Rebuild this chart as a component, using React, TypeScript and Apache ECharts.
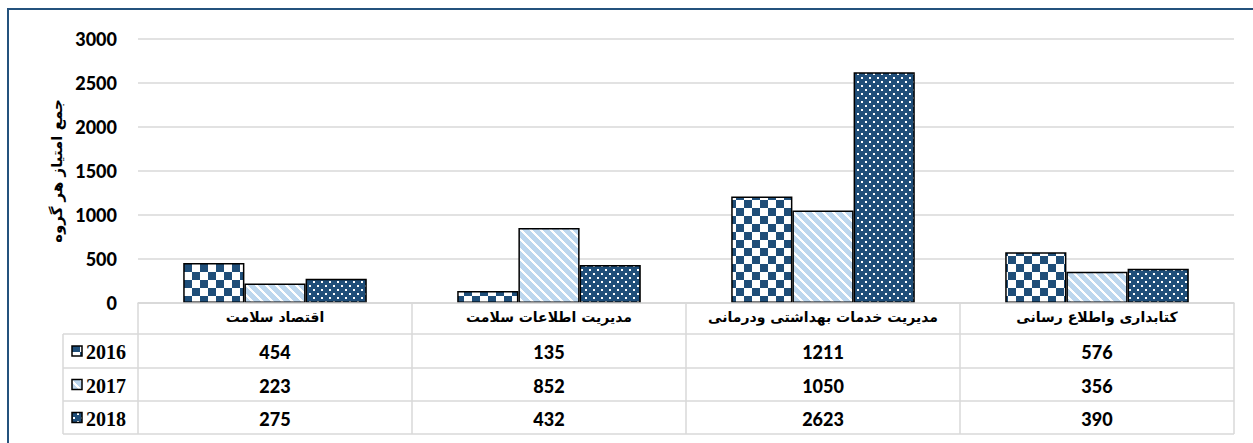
import React, { useEffect, useRef } from "react";
import * as echarts from "echarts";

// ---- data ----
const categories = [
  "اقتصاد سلامت",
  "مدیریت اطلاعات سلامت",
  "مدیریت خدمات بهداشتی ودرمانی",
  "کتابداری واطلاع رسانی",
];
const years = ["2016", "2017", "2018"];
const values2016 = [454, 135, 1211, 576];
const values2017 = [223, 852, 1050, 356];
const values2018 = [275, 432, 2623, 390];
const yMin = 0;
const yMax = 3000;
const yInterval = 500;
const yAxisTitle = "جمع امتیاز هر گروه";

const seriesValues = [values2016, values2017, values2018];

// ---- layout ----
const W = 1253;
const H = 443;
const GRID_LEFT = 138;
const GRID_RIGHT = 19;
const GRID_TOP = 39;
const AXIS_Y = 303;
const ROWS = [303, 334, 368, 401, 434];
const LEGEND_LEFT = 63;
const DARK = "#1F4E79";
const LINE = "#d9d9d9";
const NUM_FONT = "Lato, 'Open Sans', sans-serif";
const AR_FONT = "'DejaVu Sans', sans-serif";

function makeTile(kind: string): { image: string; w: number; h: number } {
  const c = document.createElement("canvas");
  let w = 16, h = 16;
  if (kind === "checker") {
    w = 16; h = 16;
    c.width = w; c.height = h;
    const ctx = c.getContext("2d")!;
    ctx.fillStyle = "#ffffff";
    ctx.fillRect(0, 0, w, h);
    ctx.fillStyle = DARK;
    ctx.fillRect(0, 0, 8, 8);
    ctx.fillRect(8, 8, 8, 8);
  } else if (kind === "stripe") {
    w = 10; h = 10;
    c.width = w; c.height = h;
    const ctx = c.getContext("2d")!;
    const img = ctx.createImageData(w, h);
    for (let y = 0; y < h; y++) {
      for (let x = 0; x < w; x++) {
        const d = (((x - y) % w) + w) % w;
        const white = d < 3;
        const i = (y * w + x) * 4;
        if (white) {
          img.data[i] = 255; img.data[i + 1] = 255; img.data[i + 2] = 255;
        } else {
          img.data[i] = 0xbd; img.data[i + 1] = 0xd7; img.data[i + 2] = 0xee;
        }
        img.data[i + 3] = 255;
      }
    }
    ctx.putImageData(img, 0, 0);
  } else {
    w = 8; h = 8;
    c.width = w; c.height = h;
    const ctx = c.getContext("2d")!;
    ctx.fillStyle = DARK;
    ctx.fillRect(0, 0, w, h);
    ctx.fillStyle = "#ffffff";
    ctx.fillRect(1, 1, 2, 2);
    ctx.fillRect(5, 5, 2, 2);
  }
  return { image: c.toDataURL(), w, h };
}

function pattern(kind: string) {
  const t = makeTile(kind);
  return {
    image: t.image,
    repeat: "repeat",
    imageWidth: t.w,
    imageHeight: t.h,
  } as any;
}

export default function App() {
  const ref = useRef<HTMLDivElement>(null);

  useEffect(() => {
    if (!ref.current) return;
    const chart = echarts.init(ref.current, undefined, { renderer: "svg" });
    const fills = [pattern("checker"), pattern("stripe"), pattern("dots")];

    const plotW = W - GRID_LEFT - GRID_RIGHT;
    const catW = plotW / categories.length;
    const tableRight = GRID_LEFT + plotW;

    const graphics: any[] = [];
    graphics.push({
      type: "rect",
      shape: { x: 8, y: 9, width: 1400, height: 600 },
      style: { fill: "none", stroke: "#24527D", lineWidth: 2 },
      silent: true,
    });
    ROWS.forEach((y, i) => {
      graphics.push({
        type: "line",
        shape: { x1: i === 0 ? GRID_LEFT : LEGEND_LEFT, y1: y, x2: tableRight, y2: y },
        style: { stroke: LINE, lineWidth: 1.5 },
        z: 10,
      });
    });
    graphics.push({
      type: "line",
      shape: { x1: LEGEND_LEFT, y1: ROWS[1], x2: LEGEND_LEFT, y2: ROWS[4] },
      style: { stroke: LINE, lineWidth: 1.5 },
      z: 10,
    });
    for (let i = 0; i <= categories.length; i++) {
      const x = GRID_LEFT + catW * i;
      graphics.push({
        type: "line",
        shape: { x1: x, y1: ROWS[0], x2: x, y2: ROWS[4] },
        style: { stroke: LINE, lineWidth: 1.5 },
        z: 10,
      });
    }
    years.forEach((yr, r) => {
      const cy = (ROWS[r + 1] + ROWS[r + 2]) / 2;
      graphics.push({
        type: "rect",
        shape: { x: 72, y: cy - 5, width: 10, height: 10 },
        style: { fill: fills[r], stroke: "#000", lineWidth: 1.5 },
        z: 10,
      });
      graphics.push({
        type: "text",
        x: 86,
        y: cy + 1,
        style: {
          text: yr,
          fill: "#000",
          font: "bold 20px 'Liberation Serif', 'Times New Roman', serif",
          textAlign: "left",
          textVerticalAlign: "middle",
        },
        z: 10,
      });
      seriesValues[r].forEach((v, c) => {
        graphics.push({
          type: "text",
          x: GRID_LEFT + catW * (c + 0.5),
          y: cy + 1,
          style: {
            text: String(v),
            fill: "#000",
            font: "900 18px " + NUM_FONT,
            textAlign: "center",
            textVerticalAlign: "middle",
          },
          z: 10,
        });
      });
    });

    chart.setOption({
      animation: false,
      backgroundColor: "#ffffff",
      grid: {
        left: GRID_LEFT,
        right: GRID_RIGHT,
        top: GRID_TOP,
        bottom: H - AXIS_Y,
        containLabel: false,
      },
      xAxis: {
        type: "category",
        data: categories,
        axisLine: { show: true, lineStyle: { color: LINE, width: 1.5 } },
        axisTick: { show: false },
        axisLabel: {
          interval: 0,
          color: "#000",
          fontSize: 14,
          fontWeight: "bold",
          fontFamily: AR_FONT,
          margin: 14,
          verticalAlign: "middle",
        },
      },
      yAxis: {
        type: "value",
        min: yMin,
        max: yMax,
        interval: yInterval,
        name: yAxisTitle,
        nameLocation: "middle",
        nameRotate: 90,
        nameGap: 73,
        nameTextStyle: {
          color: "#000",
          fontSize: 15,
          fontWeight: "bold",
          fontFamily: AR_FONT,
        },
        axisLine: { show: false },
        axisTick: { show: false },
        axisLabel: {
          color: "#000",
          fontSize: 18,
          fontWeight: 900,
          fontFamily: NUM_FONT,
          margin: 21,
          formatter: (v: number) => String(v),
        },
        splitLine: { lineStyle: { color: LINE, width: 1.5 } },
      },
      series: years.map((yr, i) => ({
        name: yr,
        type: "bar",
        data: seriesValues[i],
        barGap: "0%",
        barCategoryGap: "33%",
        itemStyle: { color: fills[i], borderColor: "#000", borderWidth: 1.5 },
      })),
      graphic: graphics,
    });

    return () => chart.dispose();
  }, []);

  return (
    <div
      ref={ref}
      style={{ position: "fixed", left: 0, top: 0, width: W, height: H, background: "#fff" }}
    />
  );
}
